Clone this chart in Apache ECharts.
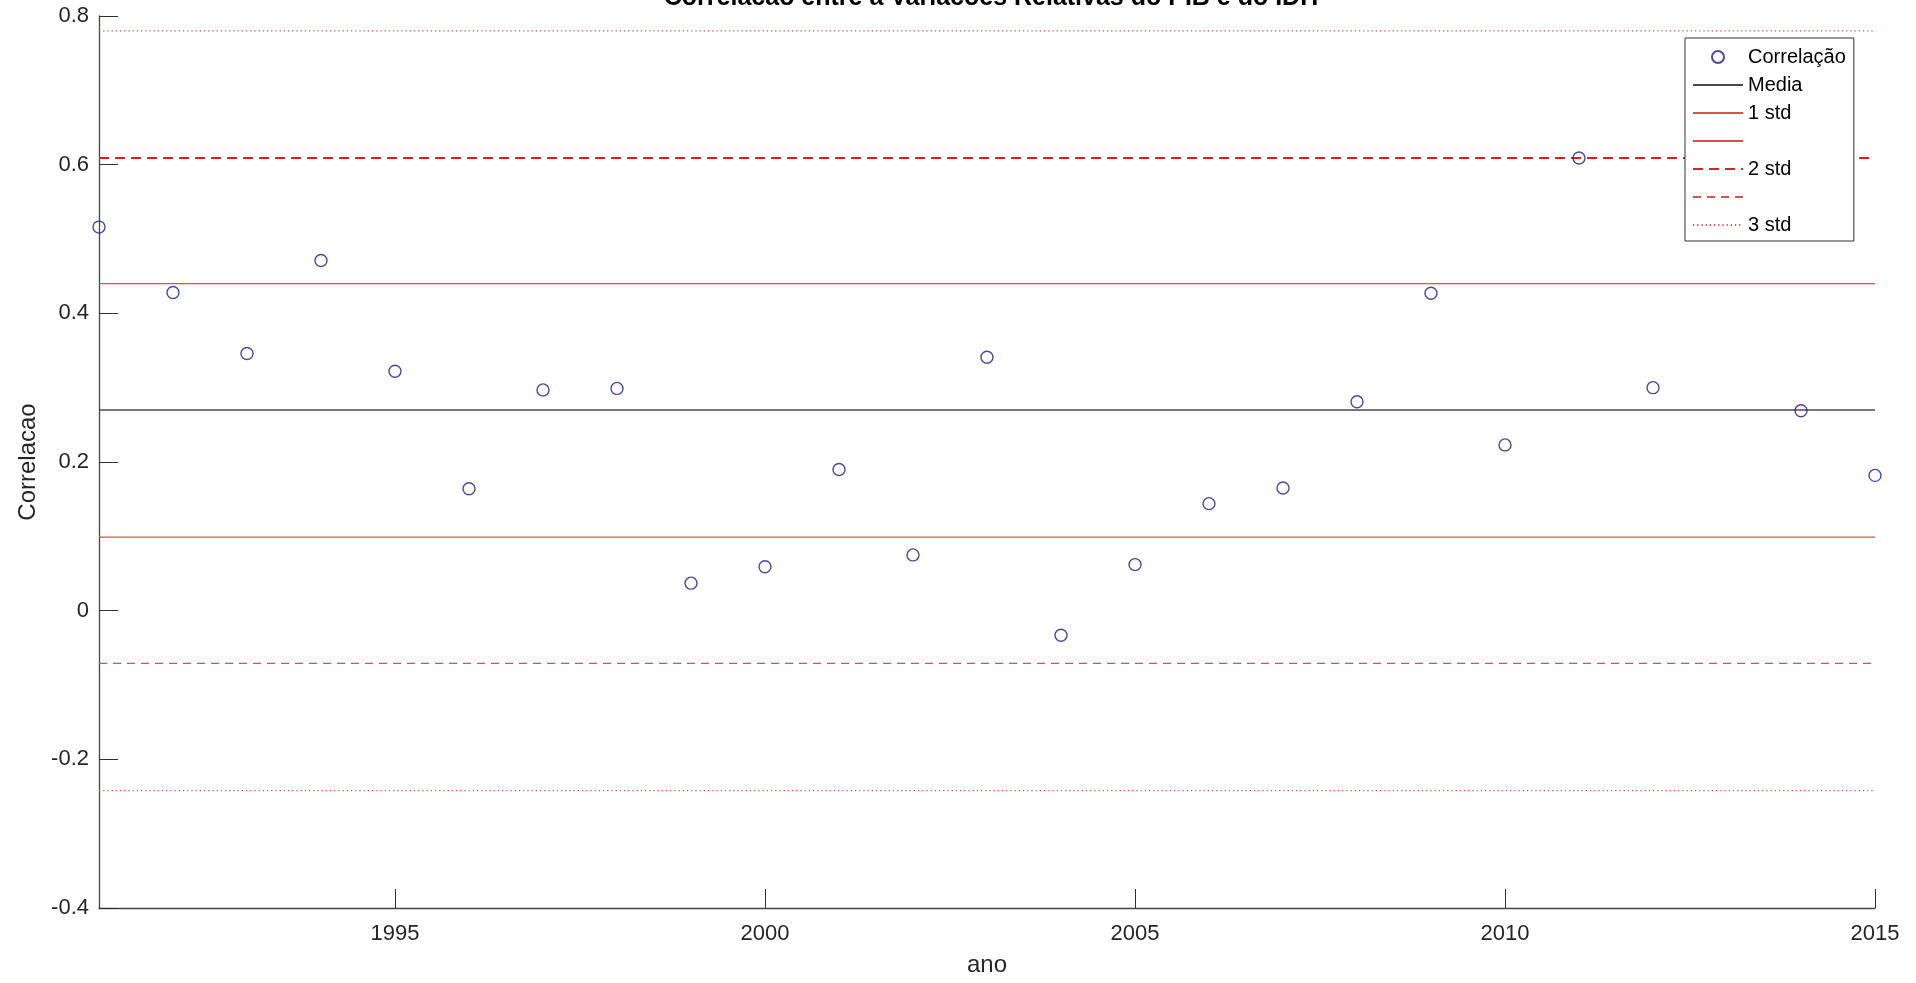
<!DOCTYPE html>
<html>
<head>
<meta charset="utf-8">
<script src="https://cdn.jsdelivr.net/npm/echarts@6/dist/echarts.min.js"></script>
<style>
html,body{margin:0;padding:0;background:#fff;}
#chart{width:1916px;height:983px;}
</style>
</head>
<body>
<div id="chart"></div>
<script>
// Years (x) and correlation values (2013 hidden behind legend)
var years = [1991,1992,1993,1994,1995,1996,1997,1998,1999,2000,2001,2002,2003,2004,2005,2006,2007,2008,2009,2010,2011,2012,2014,2015];
var correlacao = [0.516,0.428,0.346,0.471,0.322,0.164,0.297,0.299,0.037,0.059,0.190,0.075,0.341,-0.033,0.062,0.144,0.165,0.281,0.427,0.223,0.609,0.300,0.269,0.182];
// Reference levels
var mediaLevel = 0.270;
var std1Levels = [0.440, 0.099];
var std2Levels = [0.609, -0.071];
var std3Levels = [0.780, -0.242];
var xRange = [1991, 2015];
var yRange = [-0.4, 0.8];
var xTicks = [1995, 2000, 2005, 2010, 2015];

var FONT = 'Liberation Sans, Arial, sans-serif';
var TXT = '#262626';

function hline(level){ return [[xRange[0], level],[xRange[1], level]]; }

var scatterData = years.map(function(y,i){ return [y, correlacao[i]]; });

var RED = '#d9504e';
var series = [
  {
    name: 'Correlação', type: 'scatter', data: scatterData,
    symbol: 'circle', symbolSize: 12, z: 5,
    itemStyle: { color: 'rgba(255,255,255,0)', borderColor: '#1c1c88', borderWidth: 1.4 }
  },
  { name: 'Media', type: 'line', data: hline(mediaLevel), symbol: 'none', z: 3,
    itemStyle: { color: '#4a4a4a' },
    lineStyle: { color: '#4a4a4a', width: 1.5, type: 'solid' } },
  { name: '1 std', type: 'line', data: hline(std1Levels[0]), symbol: 'none', z: 3,
    itemStyle: { color: RED },
    lineStyle: { color: RED, width: 1.3, type: 'solid' } },
  { name: '1 std ', type: 'line', data: hline(std1Levels[1]), symbol: 'none', z: 3,
    itemStyle: { color: RED },
    lineStyle: { color: RED, width: 1.3, type: 'solid' } },
  { name: '2 std', type: 'line', data: hline(std2Levels[0]), symbol: 'none', z: 3,
    itemStyle: { color: '#e0201e' },
    lineStyle: { color: '#e0201e', width: 2.2, type: [10, 6] } },
  { name: '2 std ', type: 'line', data: hline(std2Levels[1]), symbol: 'none', z: 3,
    itemStyle: { color: RED },
    lineStyle: { color: RED, width: 1.2, type: [8, 6] } },
  { name: '3 std', type: 'line', data: hline(std3Levels[0]), symbol: 'none', z: 3,
    itemStyle: { color: '#e04848' },
    lineStyle: { color: '#e04848', width: 1.2, type: [1.2, 3] } },
  { name: '3 std ', type: 'line', data: hline(std3Levels[1]), symbol: 'none', z: 3,
    itemStyle: { color: '#e04848' },
    lineStyle: { color: '#e04848', width: 1.2, type: [1.2, 3] } }
];

var hideSym = { opacity: 0 };
var legendNames = ['Media', '1 std', '1 std ', '2 std', '2 std ', '3 std'];
var legendData = [{ name: 'Correlação', icon: 'circle' }].concat(
  legendNames.map(function(n){ return { name: n, itemStyle: hideSym }; })
);

var chart = echarts.init(document.getElementById('chart'), null, {renderer: 'canvas'});
chart.setOption({
  backgroundColor: '#ffffff',
  animation: false,
  title: {
    text: 'Correlacao entre a Variacoes Relativas do PIB e do IDH',
    left: 986, top: -19, textAlign: 'center',
    textStyle: { fontFamily: FONT, fontSize: 25, fontWeight: 'bold', color: '#000' }
  },
  legend: {
    left: 1685, top: 38, orient: 'vertical',
    padding: [9, 8, 6, 7],
    itemWidth: 50, itemHeight: 12, itemGap: 8,
    borderColor: '#303030', borderWidth: 1, backgroundColor: '#fff',
    data: legendData,
    formatter: function(n){ return /\s$/.test(n) ? ' ' : n; },
    textStyle: { fontFamily: FONT, fontSize: 20, color: '#000', lineHeight: 20 },
    selectedMode: false, z: 10
  },
  grid: { left: 99, right: 41, top: 16, bottom: 75, containLabel: false },
  xAxis: {
    type: 'value', min: xRange[0], max: xRange[1],
    name: 'ano', nameLocation: 'middle', nameGap: 45,
    nameTextStyle: { fontFamily: FONT, fontSize: 24, color: TXT },
    axisLine: { show: true, onZero: false, lineStyle: { color: '#454545', width: 1.3 } },
    axisTick: { show: true, inside: true, length: 19, customValues: xTicks, lineStyle: { color: '#303030', width: 1 } },
    axisLabel: { customValues: xTicks, margin: 15, fontFamily: FONT, fontSize: 22, color: TXT,
      formatter: function(v){ return String(Math.round(v)); } },
    splitLine: { show: false }
  },
  yAxis: {
    type: 'value', min: yRange[0], max: yRange[1], interval: 0.2,
    name: 'Correlacao', nameLocation: 'middle', nameGap: 55, nameRotate: 90,
    nameTextStyle: { fontFamily: FONT, fontSize: 24, color: TXT },
    axisLine: { show: true, onZero: false, lineStyle: { color: '#454545', width: 1.3 } },
    axisTick: { show: true, inside: true, length: 19, lineStyle: { color: '#303030', width: 1 } },
    axisLabel: { margin: 10, fontFamily: FONT, fontSize: 22, color: TXT,
      formatter: function(v){ var r = Math.round(v*10)/10; return r === 0 ? '0' : String(r); } },
    splitLine: { show: false }
  },
  series: series
});
</script>
</body>
</html>
